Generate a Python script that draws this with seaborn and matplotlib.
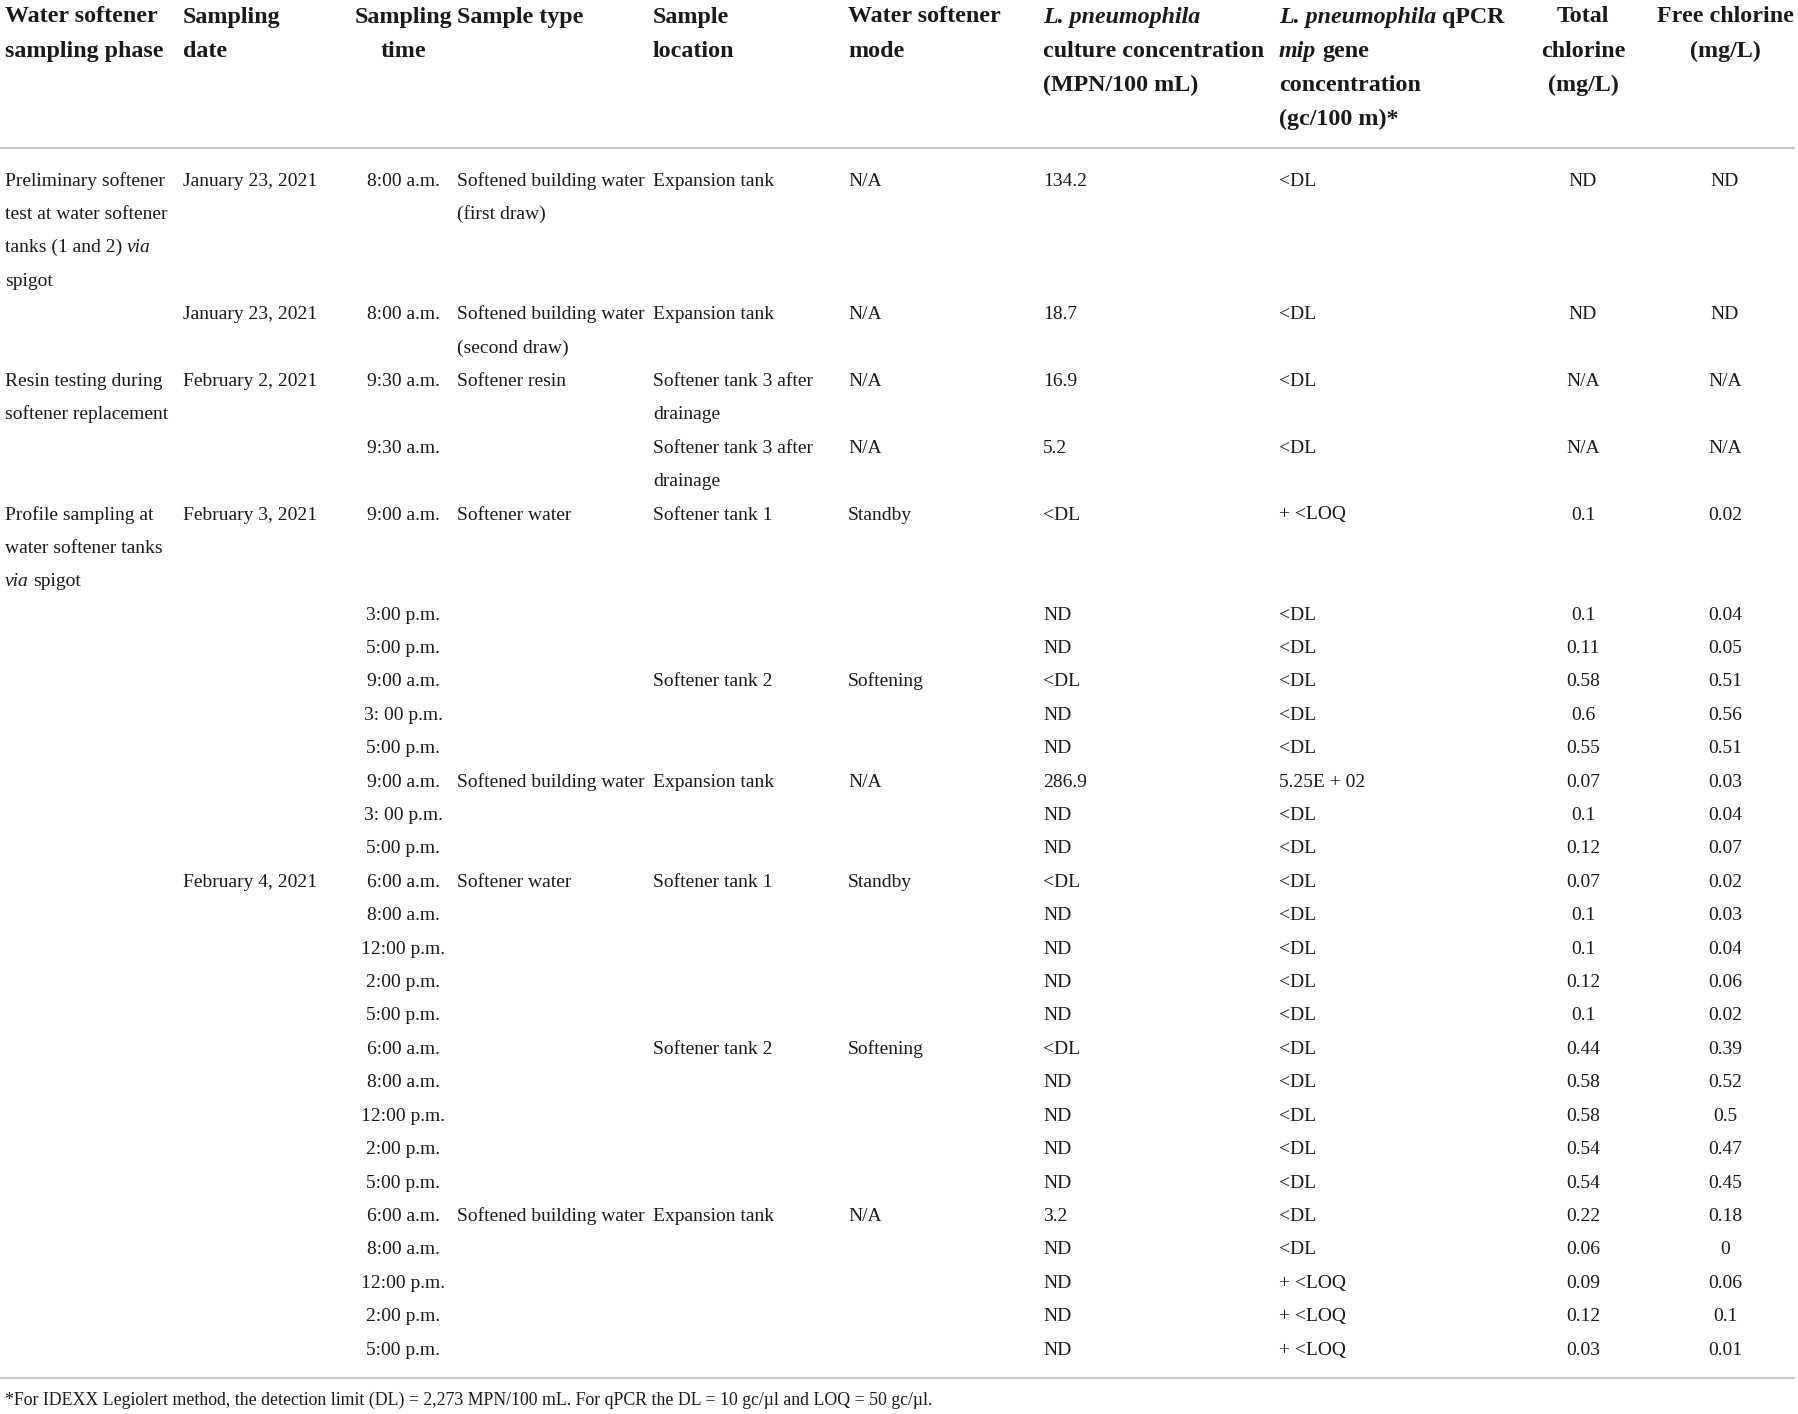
import matplotlib
matplotlib.use("Agg")
import matplotlib.pyplot as plt
import seaborn as sns
import pandas as pd

# Table data (underscores mark italic words)
phase = ["Preliminary softener\ntest at water softener\ntanks (1 and 2) _via_\nspigot", "",
         "Resin testing during\nsoftener replacement", "",
         "Profile sampling at\nwater softener tanks\n_via_ spigot"] + [""] * 23
date = ["January 23, 2021", "January 23, 2021", "February 2, 2021", "", "February 3, 2021",
        "", "", "", "", "", "", "", "", "February 4, 2021"] + [""] * 14
stime = ["8:00 a.m.", "8:00 a.m.", "9:30 a.m.", "9:30 a.m.", "9:00 a.m.",
         "3:00 p.m.", "5:00 p.m.", "9:00 a.m.", "3: 00 p.m.", "5:00 p.m.",
         "9:00 a.m.", "3: 00 p.m.", "5:00 p.m.",
         "6:00 a.m.", "8:00 a.m.", "12:00 p.m.", "2:00 p.m.", "5:00 p.m.",
         "6:00 a.m.", "8:00 a.m.", "12:00 p.m.", "2:00 p.m.", "5:00 p.m.",
         "6:00 a.m.", "8:00 a.m.", "12:00 p.m.", "2:00 p.m.", "5:00 p.m."]
stype = ["Softened building water\n(first draw)", "Softened building water\n(second draw)",
         "Softener resin", "", "Softener water", "", "", "", "", "",
         "Softened building water", "", "", "Softener water", "", "", "", "",
         "", "", "", "", "", "Softened building water", "", "", "", ""]
location = ["Expansion tank", "Expansion tank", "Softener tank 3 after\ndrainage",
            "Softener tank 3 after\ndrainage", "Softener tank 1", "", "",
            "Softener tank 2", "", "", "Expansion tank", "", "",
            "Softener tank 1", "", "", "", "", "Softener tank 2", "", "", "", "",
            "Expansion tank", "", "", "", ""]
mode = ["N/A", "N/A", "N/A", "N/A", "Standby", "", "", "Softening", "", "",
        "N/A", "", "", "Standby", "", "", "", "", "Softening", "", "", "", "",
        "N/A", "", "", "", ""]
culture = ["134.2", "18.7", "16.9", "5.2", "<DL", "ND", "ND", "<DL", "ND", "ND",
           "286.9", "ND", "ND", "<DL", "ND", "ND", "ND", "ND", "<DL", "ND", "ND",
           "ND", "ND", "3.2", "ND", "ND", "ND", "ND"]
qpcr = ["<DL", "<DL", "<DL", "<DL", "+ <LOQ", "<DL", "<DL", "<DL", "<DL", "<DL",
        "5.25E + 02", "<DL", "<DL", "<DL", "<DL", "<DL", "<DL", "<DL", "<DL",
        "<DL", "<DL", "<DL", "<DL", "<DL", "<DL", "+ <LOQ", "+ <LOQ", "+ <LOQ"]
total_cl = ["ND", "ND", "N/A", "N/A", "0.1", "0.1", "0.11", "0.58", "0.6", "0.55",
            "0.07", "0.1", "0.12", "0.07", "0.1", "0.1", "0.12", "0.1", "0.44",
            "0.58", "0.58", "0.54", "0.54", "0.22", "0.06", "0.09", "0.12", "0.03"]
free_cl = ["ND", "ND", "N/A", "N/A", "0.02", "0.04", "0.05", "0.51", "0.56", "0.51",
           "0.03", "0.04", "0.07", "0.02", "0.03", "0.04", "0.06", "0.02", "0.39",
           "0.52", "0.5", "0.47", "0.45", "0.18", "0", "0.06", "0.1", "0.01"]

headers = ["Water softener\nsampling phase", "Sampling\ndate", "Sampling\ntime",
           "Sample type", "Sample\nlocation", "Water softener\nmode",
           "_L._ _pneumophila_\nculture concentration\n(MPN/100 mL)",
           "_L._ _pneumophila_ qPCR\n_mip_ gene\nconcentration\n(gc/100 m)*",
           "Total\nchlorine\n(mg/L)", "Free chlorine\n(mg/L)"]
footnote = ("*For IDEXX Legiolert method, the detection limit (DL) = 2,273 MPN/100 mL. "
            "For qPCR the DL = 10 gc/\u00b5l and LOQ = 50 gc/\u00b5l.")

df = pd.DataFrame({"phase": phase, "date": date, "time": stime, "type": stype,
                   "location": location, "mode": mode, "culture": culture,
                   "qpcr": qpcr, "total": total_cl, "free": free_cl})

# column layout: (x, alignment)
col_x = [5, 183, 403, 457, 653, 848, 1043, 1279, 1583, 1725]
col_ha = ["left", "left", "center", "left", "left", "left", "left", "left", "center", "center"]

sns.set_theme(style="white")
plt.rcParams["font.family"] = ["Liberation Serif", "DejaVu Serif"]
INK = "#1a1a1a"
RULE = "#c9c9c9"

W, H = 1798, 1414
fig = plt.figure(figsize=(W / 100, H / 100), dpi=100)
ax = fig.add_axes([0, 0, 1, 1])
ax.set_xlim(0, W)
ax.set_ylim(H, 0)
ax.axis("off")
renderer = fig.canvas.get_renderer()

_space_cache = {}


def text_width(s, **kw):
    t = ax.text(0, 0, s, **kw)
    w = t.get_window_extent(renderer).width
    t.remove()
    return w


def space_width(**kw):
    key = tuple(sorted(kw.items()))
    if key not in _space_cache:
        _space_cache[key] = text_width("x x", **kw) - text_width("xx", **kw)
    return _space_cache[key]


def draw_line(x, y, line, ha, size, weight):
    if "_" not in line:
        ax.text(x, y, line, ha=ha, va="baseline", fontsize=size,
                fontweight=weight, color=INK)
        return
    # group words into runs of the same style
    runs = []
    for word in line.split(" "):
        style = "italic" if word.startswith("_") and word.endswith("_") else "normal"
        word = word.strip("_")
        if runs and runs[-1][1] == style:
            runs[-1][0] += " " + word
        else:
            runs.append([word, style])
    for i, (seg, style) in enumerate(runs):
        kw = dict(fontsize=size, fontweight=weight, fontstyle=style)
        t = ax.text(x, y, seg, ha="left", va="baseline", color=INK, **kw)
        x += t.get_window_extent(renderer).width + space_width(**kw)


# header
HEAD_SIZE, BODY_SIZE = 17.3, 14
head_top, head_step = 15, 34.3
for j, h in enumerate(headers):
    for k, line in enumerate(h.split("\n")):
        draw_line(col_x[j], head_top + k * head_step + 7.5, line, col_ha[j], HEAD_SIZE, "bold")

ax.plot([0, 1795], [148, 148], color=RULE, lw=1.6, solid_capstyle="butt")

# body
y = 179
step = 33.4
for _, row in df.iterrows():
    cells = list(row.values)
    nlines = max(len(c.split("\n")) for c in cells)
    for j, c in enumerate(cells):
        if not c:
            continue
        for k, line in enumerate(c.split("\n")):
            draw_line(col_x[j], y + k * step + 6.5, line, col_ha[j], BODY_SIZE, "normal")
    y += nlines * step

ax.plot([0, 1795], [1378, 1378], color=RULE, lw=1.6, solid_capstyle="butt")
ax.text(5, 1405, footnote, ha="left", va="baseline", fontsize=12.8, color=INK)

fig.savefig("out.png", dpi=100)
